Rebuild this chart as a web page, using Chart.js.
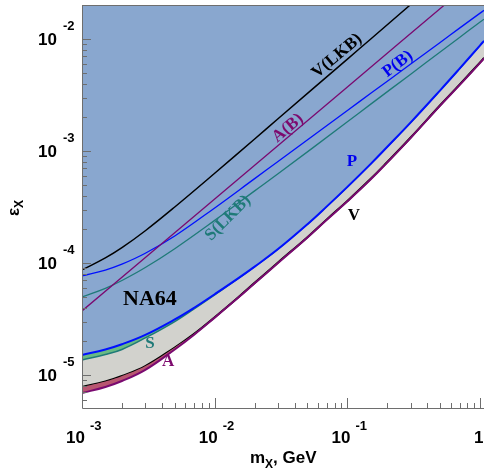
<!DOCTYPE html>
<html>
<head>
<meta charset="utf-8">
<script src="https://cdn.jsdelivr.net/npm/chart.js@4"></script>
<style>
  html, body { margin: 0; padding: 0; background: #fff; }
</style>
</head>
<body>
<canvas id="chart" width="484" height="475"></canvas>
<script>
// ---- data (m_X in GeV, epsilon_X) ----
const massLow = [0.001, 0.0015, 0.002, 0.003, 0.005, 0.007, 0.01, 0.015, 0.02, 0.03, 0.05, 0.07, 0.1, 0.15, 0.2, 0.3, 0.5, 0.7, 1.0, 1.07];
const epsP = [1.51e-5, 1.69e-5, 1.88e-5, 2.28e-5, 3.13e-5, 3.98e-5, 5.26e-5, 7.28e-5, 9.27e-5, 1.33e-4, 2.22e-4, 3.20e-4, 4.78e-4, 7.67e-4, 1.09e-3, 1.80e-3, 3.48e-3, 5.43e-3, 8.77e-3, 9.62e-3];
const epsS = [1.36e-5, 1.52e-5, 1.69e-5, 2.14e-5, 3.00e-5, 3.90e-5, 5.20e-5, 7.23e-5, 9.27e-5, 1.33e-4, 2.22e-4, 3.20e-4, 4.78e-4, 7.67e-4, 1.09e-3, 1.80e-3, 3.48e-3, 5.43e-3, 8.77e-3, 9.62e-3];
const epsV = [7.82e-6, 8.75e-6, 9.79e-6, 1.20e-5, 1.76e-5, 2.33e-5, 3.28e-5, 4.92e-5, 6.64e-5, 1.01e-4, 1.70e-4, 2.45e-4, 3.58e-4, 5.64e-4, 7.98e-4, 1.32e-3, 2.56e-3, 3.91e-3, 6.18e-3, 6.78e-3];
const epsA = [6.90e-6, 7.82e-6, 8.83e-6, 1.11e-5, 1.69e-5, 2.29e-5, 3.25e-5, 4.88e-5, 6.58e-5, 1.00e-4, 1.69e-4, 2.43e-4, 3.55e-4, 5.58e-4, 7.91e-4, 1.31e-3, 2.54e-3, 3.87e-3, 6.12e-3, 6.71e-3];

const massUp = [0.001, 0.0015, 0.002, 0.003, 0.005, 0.01, 0.02, 0.03, 0.1, 0.15, 0.3, 0.5, 0.7, 1.0, 1.07];
const epsPB = [7.66e-5, 8.65e-5, 9.75e-5, 1.22e-4, 1.74e-4, 3.10e-4, 5.66e-4, 8.05e-4, 2.30e-3, 3.27e-3, 5.97e-3, 9.31e-3, 1.25e-2, 1.70e-2, 1.80e-2];
const epsSLKB = [4.97e-5, 5.93e-5, 6.97e-5, 9.10e-5, 1.34e-4, 2.40e-4, 4.40e-4, 6.25e-4, 1.82e-3, 2.62e-3, 4.85e-3, 7.64e-3, 1.03e-2, 1.42e-2, 1.50e-2];

const massVLKB = [0.001, 0.0015, 0.002, 0.003, 0.005, 0.01, 0.02, 0.03, 0.1, 0.15, 0.3, 0.5];
const epsVLKB = [8.66e-5, 1.11e-4, 1.37e-4, 1.94e-4, 3.16e-4, 6.32e-4, 1.28e-3, 1.94e-3, 6.61e-3, 1.00e-2, 2.03e-2, 3.41e-2];

const massAB = [0.001, 0.01, 0.1, 0.6];
const epsAB = [3.73e-5, 3.73e-4, 3.73e-3, 2.24e-2];

// axis limits and tick decades
const xMin = 0.001, xMax = 1.07;
const yMin = 5.07e-6, yMax = 2.01e-2;
const xDecades = [-3, -2, -1, 0];
const yDecades = [-5, -4, -3, -2];

// curve labels: text and anchor (mass, eps)
const curveLabels = [
  { text: 'V(LKB)', m: 0.0836, e: 7.05e-3, color: '#000000', angle: -40 },
  { text: 'A(B)', m: 0.0356, e: 1.60e-3, color: '#7d0a6e', angle: -40 },
  { text: 'P(B)', m: 0.240, e: 5.98e-3, color: '#0000f0', angle: -37 },
  { text: 'S(LKB)', m: 0.0126, e: 2.52e-4, color: '#1f7a78', angle: -45 },
  { text: 'P', m: 0.108, e: 7.98e-4, color: '#0000f0', angle: 0 },
  { text: 'V', m: 0.112, e: 2.63e-4, color: '#000000', angle: 0 },
  { text: 'S', m: 3.25e-3, e: 1.90e-5, color: '#1f7a78', angle: 0 },
  { text: 'A', m: 4.45e-3, e: 1.32e-5, color: '#7d0a6e', angle: 0 },
  { text: 'NA64', m: 3.25e-3, e: 4.78e-5, color: '#000000', angle: 0, big: true }
];

const pts = (xs, ys) => xs.map((x, i) => ({ x: x, y: ys[i] }));

const BLUE_FILL = 'rgb(137,167,207)';
const GREY_FILL = 'rgb(210,210,205)';
const GREEN_FILL = 'rgb(104,186,132)';
const RED_FILL = 'rgb(184,86,112)';
const PURPLE = '#7a0a70';
const TEAL = '#1f7a78';
const BLUE = '#0010ff';

// frame, ticks, tick labels, titles and curve labels
const decor = {
  id: 'decor',
  afterDatasetsDraw(chart) {
    const ctx = chart.ctx;
    const a = chart.chartArea;
    const xs = chart.scales.x, ys = chart.scales.y;
    ctx.save();

    // frame
    ctx.strokeStyle = '#6e6e6e';
    ctx.lineWidth = 1;
    ctx.beginPath();
    ctx.moveTo(a.left + 0.5, a.top + 0.5);
    ctx.lineTo(a.right, a.top + 0.5);
    ctx.moveTo(a.left + 0.5, a.top);
    ctx.lineTo(a.left + 0.5, a.bottom + 0.5);
    ctx.lineTo(a.right, a.bottom + 0.5);
    ctx.stroke();

    // ticks (inside)
    ctx.beginPath();
    yDecades.concat([-6, -1]).forEach(d => {
      for (let k = 1; k <= 9; k++) {
        const v = k * Math.pow(10, d);
        if (v < yMin || v > yMax) continue;
        const py = Math.round(ys.getPixelForValue(v)) + 0.5;
        ctx.moveTo(a.left, py);
        ctx.lineTo(a.left + (k === 1 ? 9 : 5), py);
      }
    });
    xDecades.concat([-4]).forEach(d => {
      for (let k = 1; k <= 9; k++) {
        const v = k * Math.pow(10, d);
        if (v < xMin || v > xMax) continue;
        const px = Math.round(xs.getPixelForValue(v)) + 0.5;
        ctx.moveTo(px, a.bottom);
        ctx.lineTo(px, a.bottom - (k === 1 ? 10 : 5));
      }
    });
    ctx.stroke();

    // tick labels
    ctx.fillStyle = '#000';
    ctx.textBaseline = 'middle';
    yDecades.forEach(d => {
      const py = ys.getPixelForValue(Math.pow(10, d));
      ctx.font = 'bold 17px "Liberation Sans", Arial, sans-serif';
      ctx.textAlign = 'right';
      ctx.fillText('10', 57, py + 1);
      ctx.font = 'bold 13px "Liberation Sans", Arial, sans-serif';
      ctx.textAlign = 'left';
      ctx.fillText('-' + (-d), 63, py - 13);
    });
    xDecades.forEach(d => {
      const px = xs.getPixelForValue(Math.pow(10, d));
      if (d === 0) {
        ctx.font = 'bold 17px "Liberation Sans", Arial, sans-serif';
        ctx.textAlign = 'left';
        ctx.fillText('1', px - 6, 438);
        return;
      }
      ctx.font = 'bold 17px "Liberation Sans", Arial, sans-serif';
      ctx.textAlign = 'right';
      ctx.fillText('10', px + 3, 438);
      ctx.font = 'bold 13px "Liberation Sans", Arial, sans-serif';
      ctx.textAlign = 'left';
      ctx.fillText('-' + (-d), px + 8, 426);
    });

    // x title: m_X, GeV
    ctx.textBaseline = 'alphabetic';
    ctx.textAlign = 'left';
    let tx = 250;
    ctx.font = 'bold 17px "Liberation Sans", Arial, sans-serif';
    ctx.fillText('m', tx, 463);
    tx += ctx.measureText('m').width;
    ctx.font = 'bold 12px "Liberation Sans", Arial, sans-serif';
    ctx.fillText('X', tx, 468);
    tx += ctx.measureText('X').width;
    ctx.font = 'bold 17px "Liberation Sans", Arial, sans-serif';
    ctx.fillText(', GeV', tx, 463);

    // y title: epsilon_X (rotated)
    ctx.save();
    ctx.translate(19, 208);
    ctx.rotate(-Math.PI / 2);
    ctx.font = 'bold 17px "Liberation Sans", Arial, sans-serif';
    const we = ctx.measureText('ε').width;
    ctx.font = 'bold 12px "Liberation Sans", Arial, sans-serif';
    const wx = ctx.measureText('X').width;
    const x0 = -(we + wx) / 2;
    ctx.font = 'bold 17px "Liberation Sans", Arial, sans-serif';
    ctx.fillText('ε', x0, 0);
    ctx.font = 'bold 12px "Liberation Sans", Arial, sans-serif';
    ctx.fillText('X', x0 + we, 4);
    ctx.restore();

    // curve labels
    ctx.textAlign = 'center';
    ctx.textBaseline = 'middle';
    curveLabels.forEach(l => {
      const px = xs.getPixelForValue(l.m);
      const py = ys.getPixelForValue(l.e);
      ctx.save();
      ctx.translate(px, py);
      ctx.rotate(l.angle * Math.PI / 180);
      ctx.font = l.big ? 'bold 22px "Liberation Serif", "Times New Roman", serif'
                       : 'bold 17px "Liberation Serif", "Times New Roman", serif';
      ctx.fillStyle = l.color;
      ctx.fillText(l.text, 0, 0);
      ctx.restore();
    });

    ctx.restore();
  }
};

const ctx = document.getElementById('chart').getContext('2d');
new Chart(ctx, {
  type: 'line',
  data: {
    datasets: [
      { label: 'P', data: pts(massLow, epsP), borderColor: BLUE, borderWidth: 2,
        backgroundColor: BLUE_FILL, fill: 'end', order: 1 },
      { label: 'S', data: pts(massLow, epsS), borderColor: TEAL, borderWidth: 1.5,
        backgroundColor: GREEN_FILL, fill: 0, order: 2 },
      { label: 'V', data: pts(massLow, epsV), borderColor: '#000000', borderWidth: 2,
        backgroundColor: GREY_FILL, fill: 1, order: 4 },
      { label: 'A', data: pts(massLow, epsA), borderColor: PURPLE, borderWidth: 2,
        backgroundColor: RED_FILL, fill: 2, order: 3 },
      { label: 'V(LKB)', data: pts(massVLKB, epsVLKB), borderColor: '#000000', borderWidth: 1.5, fill: false, order: 0 },
      { label: 'A(B)', data: pts(massAB, epsAB), borderColor: PURPLE, borderWidth: 1.3, fill: false, order: 0 },
      { label: 'P(B)', data: pts(massUp, epsPB), borderColor: BLUE, borderWidth: 1.3, fill: false, order: 0 },
      { label: 'S(LKB)', data: pts(massUp, epsSLKB), borderColor: TEAL, borderWidth: 1.3, fill: false, order: 0 }
    ]
  },
  options: {
    responsive: false,
    animation: false,
    events: [],
    layout: { padding: { left: 82, top: 5, right: 0, bottom: 67 } },
    elements: {
      point: { radius: 0 },
      line: { tension: 0.4 }
    },
    plugins: { legend: { display: false }, tooltip: { enabled: false } },
    scales: {
      x: { type: 'logarithmic', min: xMin, max: xMax, bounds: 'data', display: false },
      y: { type: 'logarithmic', min: yMin, max: yMax, bounds: 'data', display: false }
    }
  },
  plugins: [decor]
});
</script>
</body>
</html>
